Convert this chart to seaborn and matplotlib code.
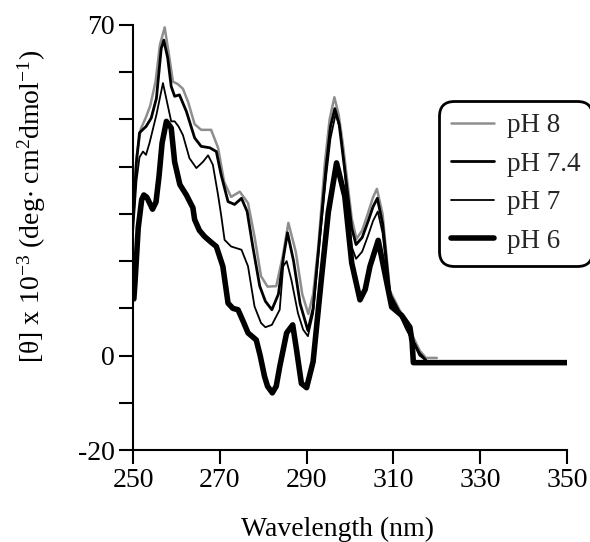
import numpy as np
import pandas as pd
import matplotlib
matplotlib.use("Agg")
import matplotlib.pyplot as plt
import seaborn as sns

# ---- data ----
wl_ph8 = [250, 250.8, 251.8, 253, 254, 255.2, 256.2, 257.3, 258.4, 259.2, 260.3, 261.5,
          262.7, 264.2, 265.7, 268, 269.6, 271, 272.6, 274.6, 276.5, 278, 279.5, 281,
          283, 284.5, 285.8, 287.5, 289, 290.4, 291.5, 292.7, 294.2, 295.3, 296.4, 297.4,
          298.4, 300.4, 301.5, 302.8, 304.2, 305.3, 306.2, 307.5, 309.2, 311.5, 313,
          314.6, 316.1, 317.5, 320]
th_ph8 = [31, 42, 48, 50.5, 53, 58, 65.8, 69.5, 63, 58, 57.5, 56.5,
          53.7, 49, 47.8, 47.8, 44, 36.8, 33.6, 34.7, 32.3, 25.2, 16.8, 14.6,
          14.7, 21, 28.1, 22, 13, 8.8, 13, 23.1, 40.7, 50, 54.7, 51,
          44.5, 29, 24.7, 26.5, 30.3, 33.5, 35.3, 30, 13.7, 9.5, 6.5,
          3.8, 1, -0.5, -0.5]

wl_ph74 = [250, 250.8, 251.5, 253, 254.2, 255.4, 256.5, 257.1, 258, 258.8, 259.6, 260.7,
           262.3, 264.2, 265.7, 267.7, 269.2, 270.3, 271.9, 273.4, 275, 276.3, 277.6,
           279.2, 280.5, 282, 283.5, 284.7, 285.6, 287, 288.5, 290.3, 291.5, 293, 294.5,
           295.5, 296.5, 297.5, 298.5, 300.4, 301.4, 302.8, 304.2, 305.3, 306.3, 307.5,
           309.2, 311.5, 313, 314.6, 316, 317.5]
th_ph74 = [29, 41, 47.2, 48.5, 50.3, 54.5, 65, 66.8, 63, 57, 54.9, 55.2,
           51.7, 46.1, 44.3, 44, 43.2, 38.3, 32.6, 32, 33.3, 30.5, 23.1,
           14.7, 11.5, 9.7, 13, 21, 26, 20, 11, 5.3, 10, 25, 40,
           48.5, 52.3, 49, 41.5, 27, 23.5, 25, 28.5, 31.5, 33.3, 28,
           13, 9, 6, 3, 0.5, -1]

wl_ph7 = [250, 250.8, 251.5, 252.3, 253, 253.8, 255.4, 256.9, 258, 258.8, 259.6, 260.5,
          261.5, 263, 264.6, 266.1, 267.3, 268.4, 269.6, 270.3, 271.1, 272.6, 275, 276.5,
          278, 279.5, 280.5, 282, 283.8, 284.6, 285.4, 286.5, 288, 289.2, 290.3, 291.5,
          293, 294.5, 295.5, 296.7, 297.7, 298.7, 300.4, 301.4, 302.8, 304.2, 305.3,
          306.4, 307.5, 309.2, 311.5, 313, 314.6, 316, 317.5]
th_ph7 = [26, 37, 42, 43.2, 42.5, 45, 51, 57.7, 53, 49.6, 49.6, 48.5,
          46.7, 41.8, 39.7, 41, 42.4, 40.4, 34, 29.8, 24.5, 23.1, 22.4, 18.9,
          10.4, 6.9, 6, 6.5, 9.7, 18.9, 20, 16, 9, 5.5, 4.1, 9,
          24, 38, 46, 51.2, 48, 40, 23, 20.5, 22, 25.5, 28.5,
          30.5, 26, 12, 8.5, 5.5, 2.8, 0, -1]

wl_ph6 = [250.2, 250.5, 251.2, 252, 252.5, 253.2, 254.5, 255.3, 256, 256.7, 257.7, 258.8,
          259.6, 260.8, 262.3, 263.8, 264.2, 265.3, 266.5, 268, 269.2, 270.7, 271.9, 273,
          274.2, 275.5, 276.5, 278.4, 279.3, 280.3, 281, 282.1, 283, 283.8, 285.4, 286.8,
          287.7, 288.8, 290, 291.5, 293.4, 295, 296.9, 298.8, 300.4, 302.3, 303.5, 304.6,
          306.5, 308, 309.6, 311.9, 313.8, 314.3, 314.6, 350]
th_ph6 = [12, 16, 27, 33, 34, 33.5, 31, 32.5, 38, 45, 49.6, 48.2,
          41, 36.2, 34, 31.3, 28.8, 26.5, 25.2, 24, 23.1, 18.9, 11.1, 10,
          9.7, 7, 4.8, 3.3, 0, -4.4, -6.5, -7.9, -6.5, -2.4, 4.8, 6.5,
          1.1, -5.9, -6.8, -1.3, 16.2, 30.3, 40.8, 33.7, 19.6, 11.8, 14, 18.9,
          24.4, 17.6, 10.3, 8.5, 6, 3, -1.5, -1.5]

labels = ["pH 8", "pH 7.4", "pH 7", "pH 6"]
x_ticks = [250, 270, 290, 310, 330, 350]
y_ticks = [-20, -10, 0, 10, 20, 30, 40, 50, 60, 70]
y_ticklabels = ["-20", "", "0", "", "", "", "", "", "", "70"]

# ---- style ----
sns.set_theme(style="ticks")
plt.rcParams["font.family"] = ["Liberation Serif", "DejaVu Serif"]
plt.rcParams["mathtext.fontset"] = "custom"
plt.rcParams["mathtext.rm"] = "Liberation Serif"
plt.rcParams["mathtext.default"] = "regular"

fig = plt.figure(figsize=(5.9, 5.42), dpi=100)
ax = fig.add_axes([133 / 590, 1 - 450 / 542, 434 / 590, 425 / 542])

series = [
    (wl_ph8, th_ph8, "#8e8e8e", 1.8, labels[0]),
    (wl_ph7, th_ph7, "black", 1.3, labels[2]),
    (wl_ph74, th_ph74, "black", 2.0, labels[1]),
    (wl_ph6, th_ph6, "black", 4.0, labels[3]),
]
handles = {}
for wl, th, col, lw, lab in series:
    df = pd.DataFrame({"wl": wl, "theta": th})
    sns.lineplot(data=df, x="wl", y="theta", ax=ax, color=col, linewidth=lw,
                 label=lab, sort=False, estimator=None)
    handles[lab] = ax.get_lines()[-1]

ax.set_xlim(250, 350)
ax.set_ylim(-20, 70)
ax.set_xticks(x_ticks)
ax.set_xticklabels([str(t) for t in x_ticks])
ax.set_yticks(y_ticks)
ax.set_yticklabels(y_ticklabels)
ax.tick_params(axis="both", direction="out", length=10, width=1.5,
               labelsize=20, pad=3, color="black", labelcolor="black")
for s in ["top", "right"]:
    ax.spines[s].set_visible(False)
for s in ["left", "bottom"]:
    ax.spines[s].set_linewidth(1.5)
    ax.spines[s].set_color("black")

ax.set_xlabel("Wavelength (nm)", fontsize=20, color="black")
ax.set_ylabel(r"[θ] x 10$^{-3}$ (deg$\cdot$ cm$^{2}$dmol$^{-1}$)", fontsize=20, color="black")
ax.xaxis.set_label_coords(0.472, -0.157)
ax.yaxis.set_label_coords(-0.196, 0.574)

leg = ax.legend([handles[l] for l in labels], labels, loc="upper left",
                bbox_to_anchor=(0.705, 0.821), fontsize=19.5, frameon=True,
                fancybox=True, edgecolor="black", framealpha=1,
                handlelength=1.6, handletextpad=0.45, labelspacing=0.5,
                borderpad=0.45, borderaxespad=0)
leg.get_frame().set_linewidth(2)
leg.get_frame().set_boxstyle("round", pad=0, rounding_size=0.55)

fig.savefig("out.png", dpi=100, facecolor="white")
